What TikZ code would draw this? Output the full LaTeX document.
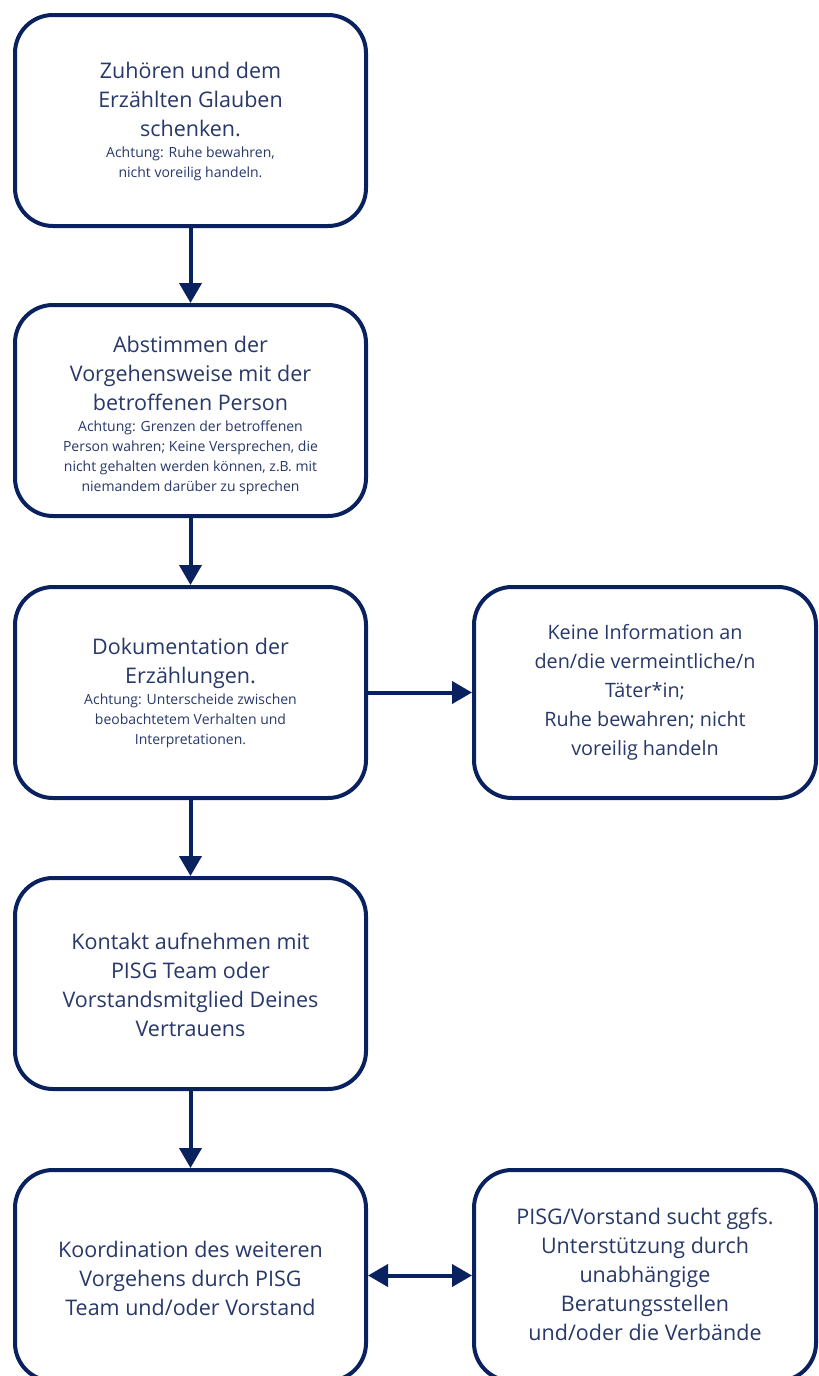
\documentclass[tikz,border=0pt]{standalone}
\usepackage{fontspec}
\setmainfont{Open Sans}
\usetikzlibrary{arrows.meta}
\definecolor{navy}{RGB}{10,33,95}
\definecolor{txt}{RGB}{40,56,105}
\tikzset{
  box/.style={draw=navy, line width=4pt, rounded corners=38pt, fill=white,
    minimum width=351pt, minimum height=211pt, inner sep=0pt},
  rbox/.style={box, minimum width=342pt},
  lbl/.style={text=txt, align=center, font=\fontsize{21.5}{29}\selectfont},
  nlbl/.style={lbl, font=\fontsize{19.8}{29}\selectfont},
  conn/.style={navy, line width=4pt, -{Triangle[length=20pt,width=22pt]}},
  biconn/.style={navy, line width=4pt, {Triangle[length=20pt,width=22pt]}-{Triangle[length=20pt,width=22pt]}}
}
\newcommand{\smalltxt}{\fontsize{14}{19.5}\selectfont}
\begin{document}
\begin{tikzpicture}[x=1pt,y=-1pt]
\useasboundingbox (0,0) rectangle (819,1376);
\fill[white] (0,0) rectangle (819,1376);
\node[box] (b1) at (190.5,120.5) {};
\node[box] (b2) at (190.5,410.5) {};
\node[box] (b3) at (190.5,692.5) {};
\node[rbox] (r3) at (645,692.5) {};
\node[box] (b4) at (190.5,983.5) {};
\node[box] (b5) at (190.5,1275.5) {};
\node[rbox] (r5) at (645,1275.5) {};

\node[lbl] (t1) at (190.5,122) {Zuhören und dem\\Erzählten Glauben\\schenken.\\[-8pt]{\smalltxt Achtung: Ruhe bewahren,}\\[-9pt]{\smalltxt nicht voreilig handeln.}};
\node[lbl] (t2) at (190.5,416) {Abstimmen der\\Vorgehensweise mit der\\betroffenen Person\\[-8pt]{\smalltxt Achtung: Grenzen der betroffenen}\\[-9pt]{\smalltxt Person wahren; Keine Versprechen, die}\\[-9pt]{\smalltxt nicht gehalten werden können, z.B. mit}\\[-9pt]{\smalltxt niemandem darüber zu sprechen}};
\node[lbl] (t3) at (190.5,693) {Dokumentation der\\Erzählungen.\\[-8pt]{\smalltxt Achtung: Unterscheide zwischen}\\[-9pt]{\smalltxt beobachtetem Verhalten und}\\[-9pt]{\smalltxt Interpretationen.}};
\node[nlbl] (tr3) at (645,692) {Keine Information an\\den/die vermeintliche/n\\Täter*in;\\Ruhe bewahren; nicht\\voreilig handeln};
\node[lbl] (t4) at (190.5,985) {Kontakt aufnehmen mit\\PISG Team oder\\Vorstandsmitglied Deines\\Vertrauens};
\node[lbl] (t5) at (190.5,1278) {Koordination des weiteren\\Vorgehens durch PISG\\Team und/oder Vorstand};
\node[lbl] (tr5) at (645,1274) {PISG/Vorstand sucht ggfs.\\Unterstützung durch\\unabhängige\\Beratungsstellen\\und/oder die Verbände};

\draw[conn] (b1.south) -- (b2.north);
\draw[conn] (b2.south) -- (b3.north);
\draw[conn] (b3.east) -- (r3.west);
\draw[conn] (b3.south) -- (b4.north);
\draw[conn] (b4.south) -- (b5.north);
\draw[biconn] (b5.east) -- (r5.west);
\end{tikzpicture}
\end{document}
